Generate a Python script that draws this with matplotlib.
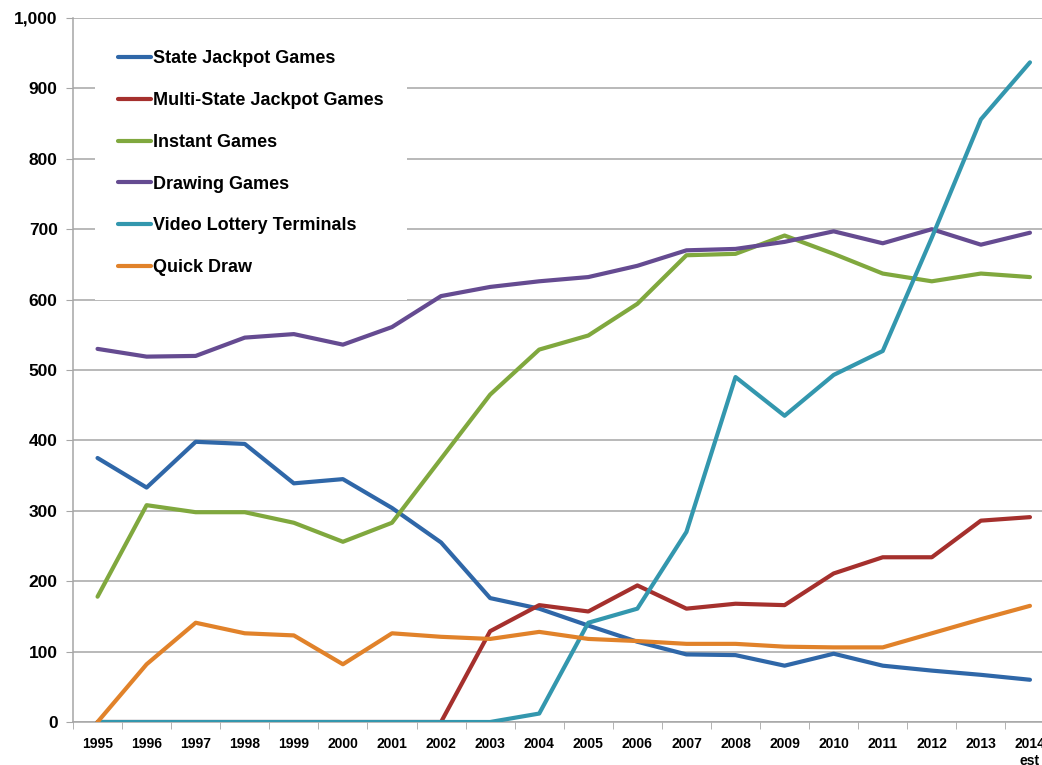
import matplotlib.pyplot as plt
from matplotlib.ticker import FuncFormatter, MultipleLocator
import numpy as np

plt.rcParams['font.family'] = ['Liberation Sans', 'DejaVu Sans']

years = ['1995', '1996', '1997', '1998', '1999', '2000', '2001', '2002', '2003', '2004',
         '2005', '2006', '2007', '2008', '2009', '2010', '2011', '2012', '2013', '2014\nest']

state_jackpot = [375, 333, 398, 395, 339, 345, 304, 255, 176, 161,
                 137, 114, 96, 95, 80, 97, 80, 73, 67, 60]
multi_state = [0, 0, 0, 0, 0, 0, 0, 0, 129, 166,
               157, 194, 161, 168, 166, 211, 234, 234, 286, 291]
instant = [178, 308, 298, 298, 283, 256, 283, 374, 465, 529,
           549, 594, 663, 665, 691, 665, 637, 626, 637, 632]
drawing = [530, 519, 520, 546, 551, 536, 561, 605, 618, 626,
           632, 648, 670, 672, 682, 697, 680, 700, 678, 695]
vlt = [0, 0, 0, 0, 0, 0, 0, 0, 0, 12,
       141, 161, 270, 490, 435, 493, 527, 688, 856, 937]
quick_draw = [0, 82, 141, 126, 123, 82, 126, 121, 118, 128,
              118, 115, 111, 111, 107, 106, 106, 126, 146, 165]

series = [
    ('State Jackpot Games', state_jackpot, '#2F67A8'),
    ('Multi-State Jackpot Games', multi_state, '#A5302D'),
    ('Instant Games', instant, '#80A83E'),
    ('Drawing Games', drawing, '#654B91'),
    ('Video Lottery Terminals', vlt, '#3397AE'),
    ('Quick Draw', quick_draw, '#E1822A'),
]

fig = plt.figure(figsize=(10.42, 7.65), dpi=100)
ax = fig.add_axes([73 / 1042, 43 / 765, 981.5 / 1042, 704 / 765])

x = np.arange(len(years))
for name, vals, col in series:
    ax.plot(x, vals, color=col, lw=3, label=name, solid_capstyle='round', zorder=3)

ax.set_xlim(-0.5, len(years) - 0.5)
ax.set_ylim(0, 1000)
ax.yaxis.set_major_locator(MultipleLocator(100))
ax.yaxis.set_major_formatter(FuncFormatter(lambda v, p: f'{int(v):,}'))
ax.grid(axis='y', color='#A6A6A6', lw=1.1, zorder=0)
ax.set_axisbelow(True)

ax.set_xticks(x)
ax.set_xticklabels(years, fontsize=10, fontweight='bold', linespacing=1.25)
ax.set_xticks(np.arange(-0.5, len(years)), minor=True)
ax.tick_params(axis='x', which='major', length=0, pad=11)
ax.tick_params(axis='x', which='minor', length=5, color='#A6A6A6', direction='out')
ax.tick_params(axis='y', length=5, color='#A6A6A6', pad=6, labelsize=12.5)
for lab in ax.get_yticklabels():
    lab.set_fontweight('bold')

for s in ['top', 'right']:
    ax.spines[s].set_visible(False)
for s in ['left', 'bottom']:
    ax.spines[s].set_color('#A6A6A6')
    ax.spines[s].set_linewidth(1.1)

leg = ax.legend(loc='upper left', bbox_to_anchor=(22 / 981.5, (722 - 27) / 704),
                borderaxespad=0, frameon=True, fancybox=False, facecolor='white',
                edgecolor='none', framealpha=1, handlelength=1.8, handletextpad=0.1,
                labelspacing=1.37, borderpad=1.3, prop={'size': 13, 'weight': 'bold'})
leg.set_zorder(5)

fig.savefig('out.png', dpi=100)
